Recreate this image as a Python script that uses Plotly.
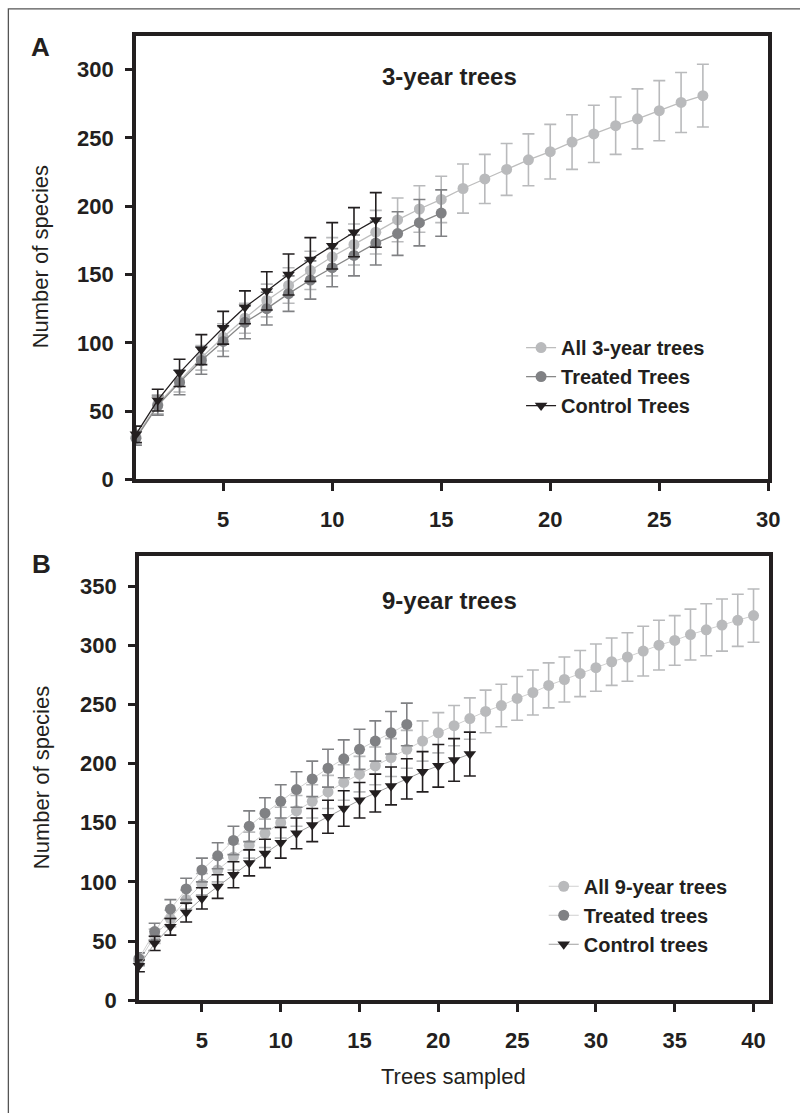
import plotly.graph_objects as go

W, H = 800, 1113

# ---------------- data ----------------
a_all_x = list(range(1, 28))
a_all = [31, 55, 72, 89, 104, 118, 131, 142, 153, 163, 172, 181, 190, 198, 205, 213, 220, 227, 234, 240,
         247, 253, 259, 264, 270, 276, 281]
a_all_err = [5, 7, 8, 9, 10, 11, 12, 13, 14, 14, 15, 16, 16, 17, 17, 18, 18, 19, 19, 20, 20, 21, 21, 22, 22, 22, 23]

a_trt_x = list(range(1, 16))
a_trt = [30, 54, 71, 87, 101, 115, 125, 136, 146, 155, 164, 173, 180, 188, 195]
a_trt_err = [5, 7, 9, 10, 11, 12, 12, 13, 14, 14, 15, 16, 16, 17, 17]

a_ctl_x = list(range(1, 13))
a_ctl = [33, 58, 78, 95, 111, 126, 138, 150, 161, 171, 181, 190]
a_ctl_err = [6, 8, 10, 11, 12, 12, 14, 15, 16, 17, 18, 20]

b_all_x = list(range(1, 41))
b_all = [33, 54, 69, 85, 98, 110, 121, 131, 141, 150, 160, 168, 176, 184, 191, 198, 205, 212, 219, 226,
         232, 238, 244, 249, 255, 260, 266, 271, 276, 281, 286, 290, 295, 300, 304, 309, 313, 317, 321, 325]
b_all_err = [4, 6, 7, 8, 9, 10, 11, 11, 12, 13, 13, 14, 14, 15, 15, 16, 16, 16, 17, 17,
             17, 17.5, 18, 18, 18.5, 19, 19, 19, 19.5, 20, 20, 20.5, 21, 21, 21, 21.5, 22, 22, 22, 22.5]

b_trt_x = list(range(1, 19))
b_trt = [35, 58, 77, 94, 110, 122, 135, 147, 158, 168, 178, 187, 196, 204, 212, 219, 226, 233]
b_trt_err = [5, 7, 8, 9, 10, 11, 12, 13, 13, 14, 15, 15, 16, 16, 17, 17, 18, 18]

b_ctl_x = list(range(1, 23))
b_ctl = [29, 48, 62, 74, 86, 96, 106, 116, 124, 133, 141, 148, 155, 162, 169, 175, 181, 187, 193, 198, 203, 208]
b_ctl_err = [5, 6, 7, 8, 9, 10, 11, 11, 12, 13, 13, 14, 14, 15, 15, 16, 16, 17, 17, 18, 18, 18.5]

a_names = ["All 3-year trees", "Treated Trees", "Control Trees"]
b_names = ["All 9-year trees", "Treated trees", "Control trees"]
x_ticks_a = [5, 10, 15, 20, 25, 30]
x_ticks_b = [5, 10, 15, 20, 25, 30, 35, 40]
y_ticks_a = [0, 50, 100, 150, 200, 250, 300]
y_ticks_b = [0, 50, 100, 150, 200, 250, 300, 350]

# ---------------- style ----------------
LIGHT = "#b9babc"
DARK = "#808184"
BLACK = "#231f20"
FONT = "Liberation Sans, Arial, sans-serif"


def px(x):
    return x / W


def py(y):
    return 1 - y / H


fig = go.Figure()


def add(xs, ys, errs, name, color, symbol, size, linecolor, lw, xa, ya, legend):
    fig.add_trace(go.Scatter(
        x=xs, y=ys, name=name, mode="lines+markers",
        xaxis=xa, yaxis=ya, legend=legend, cliponaxis=False,
        line=dict(color=linecolor, width=lw),
        marker=dict(color=color, symbol=symbol, size=size, line=dict(width=0)),
        error_y=dict(type="data", array=errs, visible=True, color=color, thickness=1.6, width=6),
    ))


add(a_all_x, a_all, a_all_err, a_names[0], LIGHT, "circle", 11, "#bdbdbd", 1.3, "x", "y", "legend")
add(a_trt_x, a_trt, a_trt_err, a_names[1], DARK, "circle", 11, "#888888", 1.3, "x", "y", "legend")
add(a_ctl_x, a_ctl, a_ctl_err, a_names[2], BLACK, "triangle-down", 11, BLACK, 1.3, "x", "y", "legend")

add(b_all_x, b_all, b_all_err, b_names[0], LIGHT, "circle", 11, "#d0d0d0", 1.0, "x2", "y2", "legend2")
add(b_trt_x, b_trt, b_trt_err, b_names[1], DARK, "circle", 11, "#d0d0d0", 1.0, "x2", "y2", "legend2")
add(b_ctl_x, b_ctl, b_ctl_err, b_names[2], BLACK, "triangle-down", 11, "#a0a0a0", 1.0, "x2", "y2", "legend2")

axis_common = dict(
    showline=True, linecolor=BLACK, linewidth=3.5, mirror=True,
    showgrid=False, zeroline=False,
    ticks="outside", tickcolor=BLACK, tickwidth=3,
    tickfont=dict(family=FONT, size=22, color=BLACK, weight="bold"),
)

legend_font = dict(family=FONT, size=20, color=BLACK, weight="bold")

fig.update_layout(
    width=W, height=H,
    margin=dict(l=0, r=0, t=0, b=0),
    paper_bgcolor="white", plot_bgcolor="white",
    font=dict(family=FONT, color=BLACK),
    xaxis=dict(domain=[px(138), px(780)], range=[1, 30], tickvals=x_ticks_a, anchor="y",
               ticklen=8, ticklabelstandoff=10, **axis_common),
    yaxis=dict(domain=[py(485), py(36)], range=[0, 325], tickvals=y_ticks_a, anchor="x",
               ticklen=7, ticklabelstandoff=7, **axis_common),
    xaxis2=dict(domain=[px(141), px(781)], range=[1, 41], tickvals=x_ticks_b, anchor="y2",
                ticklen=8, ticklabelstandoff=10, **axis_common),
    yaxis2=dict(domain=[py(1012), py(563)], range=[0, 375], tickvals=y_ticks_b, anchor="x2",
                ticklen=7, ticklabelstandoff=7, **axis_common),
    legend=dict(x=px(529), y=py(332), xanchor="left", yanchor="top", bgcolor="rgba(0,0,0,0)",
                font=legend_font, tracegroupgap=0),
    legend2=dict(x=px(552), y=py(877), xanchor="left", yanchor="top", bgcolor="rgba(0,0,0,0)",
                 font=legend_font, tracegroupgap=0),
    showlegend=True,
)

ann = []
ann.append(dict(text="A", x=px(41), y=py(48), font=dict(family=FONT, size=26, color=BLACK, weight="bold")))
ann.append(dict(text="B", x=px(42), y=py(571), font=dict(family=FONT, size=26, color=BLACK, weight="bold")))
ann.append(dict(text="3-year trees", x=px(456), y=py(77), font=dict(family=FONT, size=24, color=BLACK, weight="bold")))
ann.append(dict(text="9-year trees", x=px(456), y=py(608), font=dict(family=FONT, size=24, color=BLACK, weight="bold")))
ann.append(dict(text="Number of species", x=px(42), y=py(260), textangle=-90,
                font=dict(family=FONT, size=22, color=BLACK)))
ann.append(dict(text="Number of species", x=px(42), y=py(787), textangle=-90,
                font=dict(family=FONT, size=22, color=BLACK)))
ann.append(dict(text="Trees sampled", x=px(460), y=py(1089), font=dict(family=FONT, size=22, color=BLACK)))
for a in ann:
    a.update(xref="paper", yref="paper", showarrow=False, xanchor="center", yanchor="middle")
fig.update_layout(annotations=ann)

# outer frame (left and top edges of the figure box)
fig.add_shape(type="rect", xref="paper", yref="paper", x0=px(8.5), x1=1.05, y0=-0.05, y1=py(9),
              line=dict(color="#555555", width=1.3), fillcolor="rgba(0,0,0,0)", layer="below")

fig.write_html("out.html")
